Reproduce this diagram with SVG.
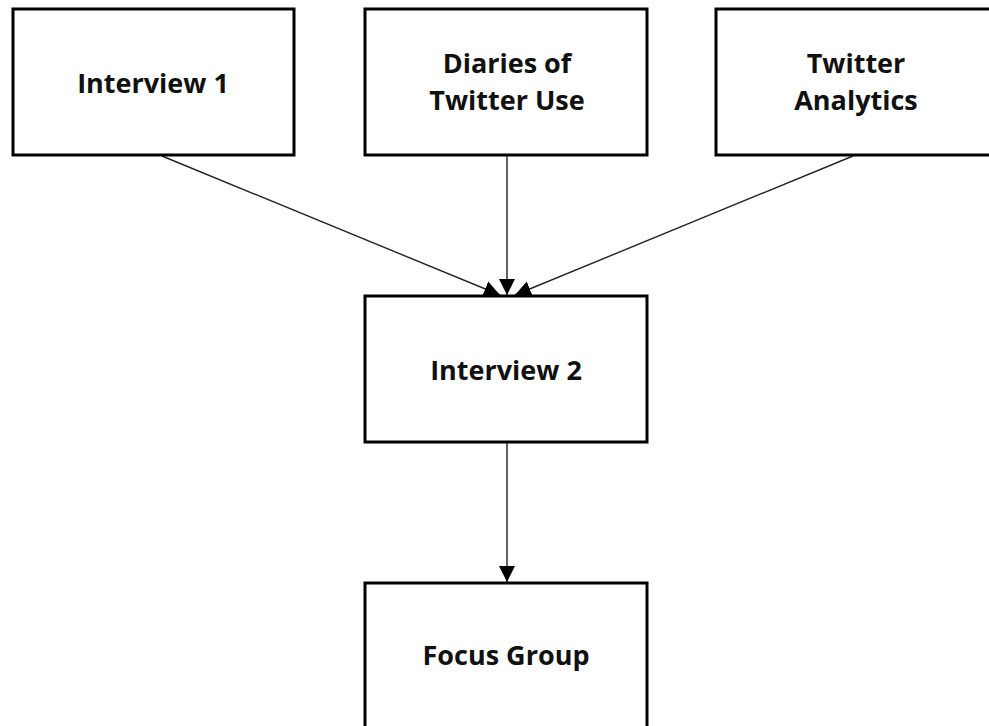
<svg xmlns="http://www.w3.org/2000/svg" width="989" height="726" viewBox="0 0 989 726">
<style>
.box{fill:#fff;stroke:#000;stroke-width:3}
.lbl{font-family:"Open Sans","Liberation Sans",sans-serif;font-weight:bold;font-size:27px;fill:#111;text-anchor:middle}
.conn{stroke:#222;stroke-width:1.4;fill:none;marker-end:url(#ah)}
</style>
<defs>
<marker id="ah" markerUnits="userSpaceOnUse" markerWidth="18" markerHeight="18" viewBox="0 0 18 18" refX="16" refY="9" orient="auto">
<path d="M0,1 L16,9 L0,17 Z" fill="#000"/>
</marker>
</defs>
<rect width="989" height="726" fill="#fff"/>
<g id="connectors">
<line class="conn" x1="162" y1="156" x2="500" y2="295"/>
<line class="conn" x1="507" y1="156" x2="507" y2="295"/>
<line class="conn" x1="853" y1="156" x2="515" y2="295"/>
<line class="conn" x1="507" y1="442" x2="507" y2="582"/>
</g>
<g id="interview1">
<rect class="box" x="13" y="9" width="281" height="146"/>
<text class="lbl" x="153" y="93">Interview 1</text>
</g>
<g id="diaries">
<rect class="box" x="365" y="9" width="282" height="146"/>
<text class="lbl" x="507" y="73">Diaries of</text>
<text class="lbl" x="507" y="110">Twitter Use</text>
</g>
<g id="analytics">
<rect class="box" x="716" y="9" width="282" height="146"/>
<text class="lbl" x="856" y="73">Twitter</text>
<text class="lbl" x="856" y="110">Analytics</text>
</g>
<g id="interview2">
<rect class="box" x="365" y="296" width="282" height="146"/>
<text class="lbl" x="506" y="380">Interview 2</text>
</g>
<g id="focusgroup">
<rect class="box" x="365" y="583" width="282" height="160"/>
<text class="lbl" x="506" y="665">Focus Group</text>
</g>
</svg>
